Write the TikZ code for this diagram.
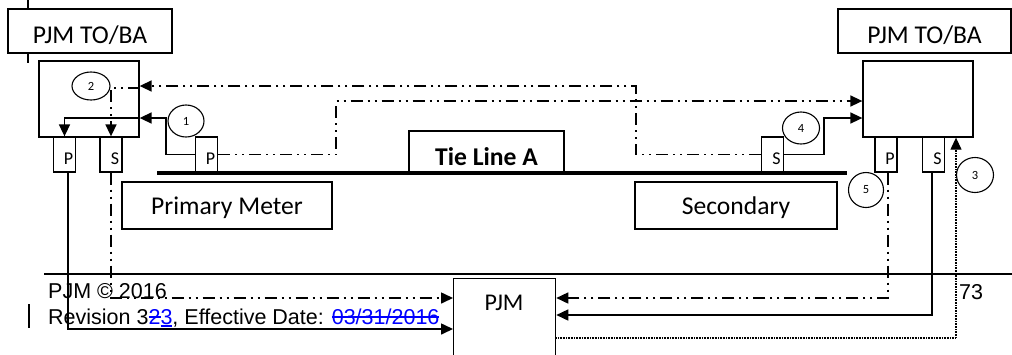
\documentclass[tikz,border=0pt]{standalone}
\usepackage{fontspec}
\setmainfont{Carlito}
\newfontfamily\footfont{Liberation Sans}
\usepackage{xcolor}
\usetikzlibrary{arrows.meta,shapes.geometric}
\newsavebox\markbox
\newcommand{\strk}[1]{\sbox\markbox{#1}\rlap{\rule[0.3em]{\wd\markbox}{1.1pt}}\usebox\markbox}
\newcommand{\undl}[1]{\sbox\markbox{#1}\rlap{\rule[-0.12em]{\wd\markbox}{1.1pt}}\usebox\markbox}

\begin{document}
\begin{tikzpicture}[x=1pt,y=-1pt,
    box/.style={draw,line width=1.3pt,inner sep=0pt},
    lbl/.style={box,font=\fontsize{25.6}{30}\selectfont,text height=18.5pt,text depth=0pt},
    meter/.style={box,minimum width=22pt,minimum height=35pt,font=\fontsize{18}{20}\selectfont,
        text height=19.6pt,text depth=0pt,execute at begin node=\hspace*{8pt}},
    num/.style={draw,ellipse,line width=1.1pt,inner sep=0pt,font=\fontsize{12.5}{14}\selectfont},
    foot/.style={anchor=base west,inner sep=0pt,font=\footfont\fontsize{21.5}{24}\selectfont},
    sig/.style={line width=1.6pt,-{Triangle[length=12pt,width=11pt]}},
    ddot/.style={sig,dash pattern=on 12pt off 5pt on 2pt off 5pt on 2pt off 5pt},
    fine/.style={sig,line width=1.2pt,dash pattern=on 0.8pt off 0.8pt}]

        \useasboundingbox (0,0) rectangle (1012,354);
        \fill[white] (0,0) rectangle (1012,354);

        % Draw the TO/BA label boxes
        \node[lbl,minimum width=164pt,minimum height=44pt,text height=24.5pt] (tobaL) at (90,31) {PJM TO/BA};
        \node[lbl,minimum width=173pt,minimum height=44pt,text height=24.5pt] (tobaR) at (924.5,31) {PJM TO/BA};
        \draw[line width=1.5pt] (tobaL.north -| 28,0) -- (28,0);
        \draw[line width=1.5pt] (tobaL.south -| 28,0) -- (28,63);

        % Draw the control centre boxes and their meters
        \node[box,minimum width=100pt,minimum height=76pt] (ccL) at (89,99) {};
        \node[box,minimum width=110pt,minimum height=76pt] (ccR) at (918,99) {};
        \node[meter] (pL) at (64.5,154.5) {P};
        \node[meter] (sL) at (111,154.5) {S};
        \node[meter] (pR) at (886,154.5) {P};
        \node[meter] (sR) at (933.5,154.5) {S};

        % Draw the tie line with its meters
        \node[lbl,minimum width=155pt,minimum height=41pt,text height=27.5pt,
            font=\fontsize{25.6}{30}\selectfont\bfseries] (tie) at (486.5,151.5) {Tie Line A};
        \node[meter] (pTie) at (206.5,154.5) {P};
        \node[meter] (sTie) at (772.5,154.5) {S};
        \draw[line width=4pt] (157,173) -- (847,173);
        \node[lbl,minimum width=210pt,minimum height=47pt] (primary) at (227,205.5) {Primary Meter};
        \node[lbl,minimum width=202pt,minimum height=47pt] (secondary) at (736,205.5) {Secondary};

        % Draw the footer
        \draw[line width=1.2pt] (44,274) -- (1012,274);
        \node[foot] (copy) at (48,298) {PJM \textcopyright{} 2016};
        \node[foot] (rev) at (48,324) {Revision 3\textcolor{blue}{\strk{2}\undl{3}}, Effective Date: \textcolor{blue}{\strk{03/31/2016}}};
        \node[foot] (page) at (959,299) {73};
        \draw[line width=2pt] (29,304) -- (29,328);

        % Draw the PJM box
        \node[box,anchor=north west,minimum width=102pt,minimum height=90pt] (pjm) at (453,278) {};
        \node[font=\fontsize{24}{28}\selectfont,anchor=base,inner sep=0pt] (pjmText) at (504,310.5) {PJM};

        % Draw the lines between the tie line meters and the control centres
        \draw[sig] (pTie.west) -- ++(-29,0) |- (ccL.east |- 0,118);
        \draw[ddot] (sTie.west) -- ++(-125,0) |- (ccL.east |- 0,86);
        \draw[ddot] (pTie.east) -- ++(118,0) |- (ccR.west |- 0,101);
        \draw[sig] (sTie.east) -- ++(40,0) |- (ccR.west |- 0,118);
        \draw[sig] (ccL.east |- 0,118) -| (pL.north);
        \draw[ddot] (ccL.east |- 0,88) -| (sL.north);

        % Draw the lines down to PJM
        \draw[sig] ([xshift=3.5pt]pL.south) |- (pjm.west |- 0,329);
        \draw[ddot] (sL.south) |- (pjm.west |- 0,298);
        \draw[ddot] ([xshift=2pt]pR.south) |- (pjm.east |- 0,298);
        \draw[sig] ([xshift=-1.5pt]sR.south) |- (pjm.east |- 0,315);
        \draw[fine] (pjm.east |- 0,338) -| (ccR.south -| 956,0);

        % Number the data paths
        \node[num,minimum width=36pt,minimum height=32pt] (c1) at (186,121) {1};
        \node[num,minimum width=38pt,minimum height=28pt] (c2) at (91,86) {2};
        \node[num,minimum width=37pt,minimum height=35pt] (c3) at (975,175) {3};
        \node[num,minimum width=37pt,minimum height=32pt] (c4) at (801,128) {4};
        \node[num,minimum width=35pt,minimum height=35pt] (c5) at (866,190) {5};
    \end{tikzpicture}
\end{document}
